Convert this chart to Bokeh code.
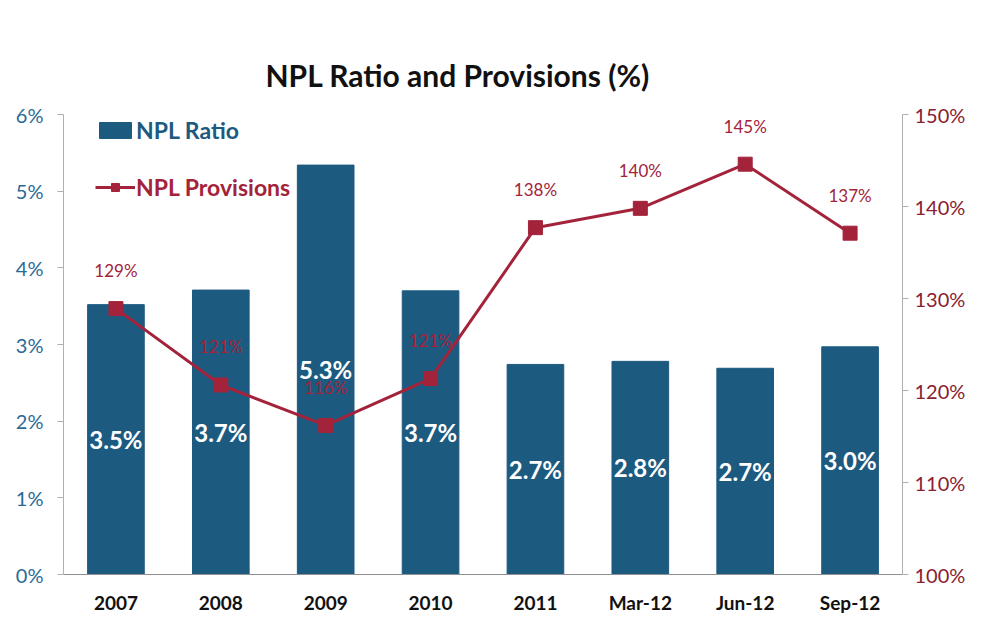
from bokeh.plotting import figure
from bokeh.models import ColumnDataSource, Range1d, LinearAxis, FixedTicker, Legend, LegendItem, CustomJSTickFormatter
from bokeh.core.properties import value
from bokeh.embed import file_html
from bokeh.resources import INLINE

categories = ["2007", "2008", "2009", "2010", "2011", "Mar-12", "Jun-12", "Sep-12"]
npl_ratio = [3.52, 3.71, 5.34, 3.70, 2.74, 2.78, 2.69, 2.97]
npl_ratio_labels = ["3.5%", "3.7%", "5.3%", "3.7%", "2.7%", "2.8%", "2.7%", "3.0%"]
npl_provisions = [128.9, 120.6, 116.2, 121.3, 137.7, 139.8, 144.6, 137.1]
npl_provisions_labels = ["129%", "121%", "116%", "121%", "138%", "140%", "145%", "137%"]
left_ticks = [0, 1, 2, 3, 4, 5, 6]
right_ticks = [100, 110, 120, 130, 140, 150]

BAR = "#1d5a80"
LINE = "#a3233a"
FONT = "Lato"

src = ColumnDataSource(dict(
    cat=categories,
    ratio=npl_ratio,
    ratio_mid=[v / 2 for v in npl_ratio],
    ratio_lbl=npl_ratio_labels,
    prov=npl_provisions,
    prov_lbl=npl_provisions_labels,
))

p = figure(width=968, height=616, x_range=categories, y_range=Range1d(0, 6),
           output_backend="svg", toolbar_location=None,
           min_border_left=63, min_border_right=63, min_border_top=114, min_border_bottom=40)
p.title.text = "NPL Ratio and Provisions (%)"
p.title.text_font = FONT
p.title.text_font_size = "30px"
p.title.text_font_style = "bold"
p.title.align = "left"
p.title.text_color = "#111111"
p.title.offset = 202
p.title.standoff = 43
p.outline_line_color = None
p.xgrid.grid_line_color = None
p.ygrid.grid_line_color = None

p.extra_y_ranges = {"prov": Range1d(100, 150)}

bars = p.vbar(x="cat", top="ratio", width=0.54, source=src, color=BAR)
p.text(x="cat", y="ratio_mid", text="ratio_lbl", source=src, text_color="white",
       text_font=value(FONT), text_font_size="24px", text_font_style="bold",
       text_align="center", text_baseline="middle")

line = p.line(x="cat", y="prov", source=src, line_color=LINE, line_width=3, y_range_name="prov")
pts = p.scatter(x="cat", y="prov", source=src, marker="square", size=14, color=LINE, y_range_name="prov")
p.text(x="cat", y="prov", text="prov_lbl", source=src, text_color=LINE, y_range_name="prov",
       text_font=value(FONT), text_font_size="17px", text_align="center",
       text_baseline="middle", y_offset=-38)

# left axis
ax = p.yaxis[0]
ax.ticker = FixedTicker(ticks=left_ticks)
ax.formatter = CustomJSTickFormatter(code="return tick + '%';")
ax.major_label_text_color = "#2a6a96"
ax.major_label_text_font = FONT
ax.major_label_text_font_size = "20px"
ax.axis_line_color = "#b0b0b0"
ax.major_tick_line_color = "#b0b0b0"
ax.major_tick_out = 6
ax.major_tick_in = 0
ax.minor_tick_line_color = None
ax.major_label_standoff = 14

ax2 = LinearAxis(y_range_name="prov", ticker=FixedTicker(ticks=right_ticks))
ax2.formatter = CustomJSTickFormatter(code="return tick + '%';")
ax2.major_label_text_color = "#8a2030"
ax2.major_label_text_font = FONT
ax2.major_label_text_font_size = "20px"
ax2.axis_line_color = "#b0b0b0"
ax2.major_tick_line_color = "#b0b0b0"
ax2.major_tick_out = 6
ax2.major_tick_in = 0
ax2.minor_tick_line_color = None
ax2.major_label_standoff = 6
p.add_layout(ax2, "right")

xa = p.xaxis[0]
xa.axis_line_color = "#909090"
xa.major_tick_line_color = None
xa.major_label_text_font = FONT
xa.major_label_text_font_size = "19px"
xa.major_label_text_font_style = "bold"
xa.major_label_text_color = "#111111"
xa.major_label_standoff = 10

leg1 = Legend(items=[LegendItem(label="NPL Ratio", renderers=[bars])], location=(32, 430))
leg2 = Legend(items=[LegendItem(label="NPL Provisions", renderers=[line, pts])], location=(32, 373))
for lg, c in ((leg1, BAR), (leg2, LINE)):
    lg.label_text_color = c
    lg.label_text_font = FONT
    lg.label_text_font_size = "23px"
    lg.label_text_font_style = "bold"
    lg.background_fill_alpha = 0
    lg.border_line_color = None
    lg.glyph_width = 40
    lg.glyph_height = 20
    lg.label_standoff = 1
    lg.padding = 0
    lg.margin = 0
    p.add_layout(lg, "center")

open("out.html", "w").write(file_html(p, INLINE))
